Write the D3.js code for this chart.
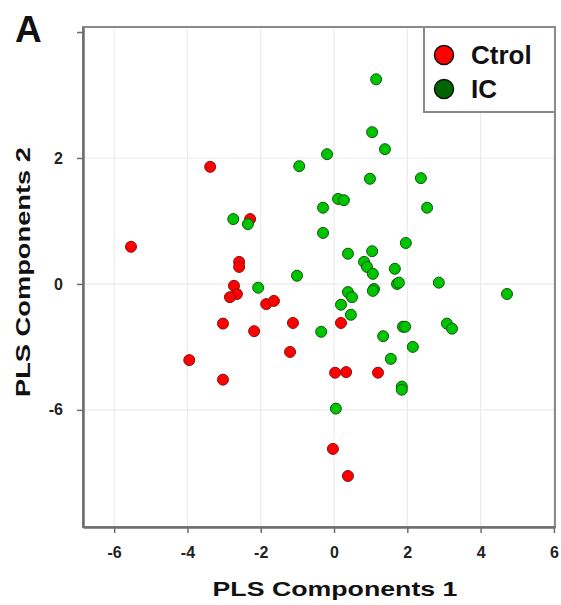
<!DOCTYPE html>
<html>
<head>
<meta charset="utf-8">
<script src="https://cdn.jsdelivr.net/npm/d3@7"></script>
<style>
  body { margin: 0; background: #fff; }
  svg text { font-family: "Liberation Sans", Arial, sans-serif; font-weight: bold; }
</style>
</head>
<body>
<svg class="chart"></svg>
<script>
// PLS scores
const ctrlX = [-3.38, -5.54, -2.29, -2.59, -2.59, -2.73, -2.65, -2.84, -1.85, -1.64, -3.03,
  -2.18, -1.12, -3.95, -1.20, -3.03, 0.19, 0.03, 0.33, 1.20, -0.03, 0.38];
const ctrlY = [1.86, 0.59, 1.03, 0.35, 0.27, -0.03, -0.16, -0.21, -0.32, -0.27, -0.63,
  -0.75, -0.62, -1.21, -1.08, -1.52, -0.62, -1.41, -1.40, -1.41, -2.62, -3.05];

const icX = [-0.95, -2.75, -2.35, -2.07, -1.01, 1.15, 1.04, 1.39, -0.19, 0.98, 2.37, 0.11,
  0.27, -0.30, 2.54, -0.30, 1.96, 0.38, 1.04, 0.82, 0.90, 1.66, 1.06, 1.72, 1.77, 2.86,
  4.72, 1.09, 1.06, 0.38, 0.49, 0.19, 0.46, -0.35, 1.88, 1.94, 3.08, 3.22, 1.34, 2.15,
  1.55, 1.85, 1.85, 0.05];
const icY = [1.87, 1.03, 0.95, -0.06, 0.13, 3.25, 2.41, 2.14, 2.06, 1.67, 1.68, 1.35,
  1.33, 1.21, 1.21, 0.81, 0.65, 0.48, 0.52, 0.35, 0.27, 0.24, 0.16, 0.00, 0.02, 0.02,
  -0.16, -0.08, -0.11, -0.13, -0.21, -0.33, -0.49, -0.76, -0.68, -0.68, -0.63, -0.71,
  -0.83, -1.00, -1.19, -1.63, -1.68, -1.98];

const xTicks = [-6, -4, -2, 0, 2, 4, 6];
const xTickLabels = ['-6', '-4', '-2', '0', '2', '4', '6'];
const yTicks = [-2, 0, 2, 4];
const yTickLabels = ['-6', '0', '2', ''];
const groups = ['Ctrol', 'IC'];

const width = 561;
const height = 605;
const plot = { left: 83, right: 555, top: 27, bottom: 527 };

const svg = d3.select('.chart').attr('width', width).attr('height', height);

const x = d3.scaleLinear().domain([-6.85, 6.03]).range([plot.left, plot.right]);
const y = d3.scaleLinear().domain([-3.86, 4.08]).range([plot.bottom, plot.top]);

// grid
svg.append('g')
  .selectAll('line')
  .data(xTicks)
  .enter()
  .append('line')
  .attr('x1', d => x(d)).attr('x2', d => x(d))
  .attr('y1', plot.top).attr('y2', plot.bottom)
  .attr('stroke', '#ebebeb')
  .attr('stroke-width', 1.2);

svg.append('g')
  .selectAll('line')
  .data(yTicks.slice(0, 3))
  .enter()
  .append('line')
  .attr('x1', plot.left).attr('x2', plot.right)
  .attr('y1', d => y(d)).attr('y2', d => y(d))
  .attr('stroke', '#ebebeb')
  .attr('stroke-width', 1.2);

// frame
svg.append('rect')
  .attr('x', plot.left).attr('y', plot.top)
  .attr('width', plot.right - plot.left).attr('height', plot.bottom - plot.top)
  .attr('fill', 'none')
  .attr('stroke', '#8a8a8a')
  .attr('stroke-width', 2);

// axes
const xAxis = svg.append('g')
  .attr('transform', `translate(0,${plot.bottom})`)
  .call(d3.axisBottom(x).tickValues(xTicks).tickFormat((d, i) => xTickLabels[i])
    .tickSize(6).tickSizeOuter(0).tickPadding(14));

const yAxis = svg.append('g')
  .attr('transform', `translate(${plot.left},0)`)
  .call(d3.axisLeft(y).tickValues(yTicks).tickFormat((d, i) => yTickLabels[i])
    .tickSize(6).tickSizeOuter(0).tickPadding(14));

[xAxis, yAxis].forEach(a => {
  a.select('.domain').attr('stroke', '#6e6e6e').attr('stroke-width', 2.5);
  a.selectAll('.tick line').attr('stroke', '#6e6e6e').attr('stroke-width', 1.5);
  a.selectAll('.tick text').attr('fill', '#222').style('font-size', '16px');
});

// points
const ctrl = ctrlX.map((v, i) => ({ x: v, y: ctrlY[i] }));
const ic = icX.map((v, i) => ({ x: v, y: icY[i] }));

svg.append('g')
  .selectAll('circle')
  .data(ctrl)
  .enter()
  .append('circle')
  .attr('cx', d => x(d.x))
  .attr('cy', d => y(d.y))
  .attr('r', 5.5)
  .attr('fill', '#ff0000')
  .attr('stroke', '#8a1010')
  .attr('stroke-width', 1);

svg.append('g')
  .selectAll('circle')
  .data(ic)
  .enter()
  .append('circle')
  .attr('cx', d => x(d.x))
  .attr('cy', d => y(d.y))
  .attr('r', 5.5)
  .attr('fill', '#00c400')
  .attr('stroke', '#0b5a0b')
  .attr('stroke-width', 1);

// legend
const legend = svg.append('g');
legend.append('rect')
  .attr('x', 424).attr('y', plot.top)
  .attr('width', plot.right - 424).attr('height', 85)
  .attr('fill', '#fff')
  .attr('stroke', '#8a8a8a')
  .attr('stroke-width', 2);

const legendColors = ['#ff0000', '#006400'];
groups.forEach((g, i) => {
  legend.append('circle')
    .attr('cx', 444).attr('cy', 55 + i * 34)
    .attr('r', 9.5)
    .attr('fill', legendColors[i])
    .attr('stroke', '#111')
    .attr('stroke-width', 1.5);
  legend.append('text')
    .attr('x', 471).attr('y', 64 + i * 34)
    .style('font-size', '26px')
    .attr('fill', '#111')
    .text(g);
});

// titles
svg.append('text')
  .attr('x', 15).attr('y', 42)
  .style('font-size', '37px')
  .attr('fill', '#111')
  .text('A');

svg.append('text')
  .attr('x', 335).attr('y', 596)
  .attr('text-anchor', 'middle')
  .style('font-size', '21px')
  .attr('textLength', 245)
  .attr('lengthAdjust', 'spacingAndGlyphs')
  .attr('fill', '#111')
  .text('PLS Components 1');

svg.append('text')
  .attr('transform', 'translate(30,272) rotate(-90)')
  .attr('text-anchor', 'middle')
  .style('font-size', '21px')
  .attr('textLength', 250)
  .attr('lengthAdjust', 'spacingAndGlyphs')
  .attr('fill', '#111')
  .text('PLS Components 2');
</script>
</body>
</html>
